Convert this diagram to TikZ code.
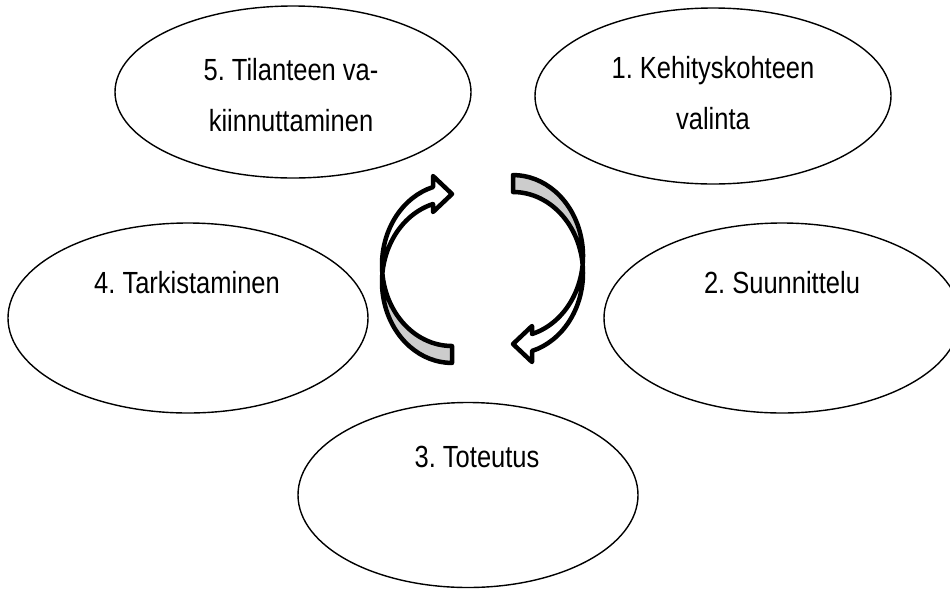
\documentclass[tikz,border=0pt]{standalone}
\usepackage{fontspec}
\setmainfont{Liberation Sans}
\usetikzlibrary{shapes.geometric}
\frenchspacing

\begin{document}
\begin{tikzpicture}[x=1pt,y=-1pt,
    phase/.style={draw,ellipse,line width=1.4pt,inner sep=0pt},
    phasetext/.style={font=\fontsize{25.5}{42}\selectfont,align=center,inner sep=0pt,
      yscale=1.2,transform shape},
    arrowline/.style={line width=4.5pt,line join=round},
    arrowshade/.style={fill=black!20},
    pics/turnarrow/.style={code={
      % shaded back side of the band
      \fill[arrowshade] (382,282) arc[start angle=180,end angle=90,x radius=70,y radius=81]
        -- (452,346) arc[start angle=90,end angle=180,x radius=70,y radius=81] -- cycle;
      % outline of band and head
      \draw[arrowline] (433,204) arc[start angle=254.25,end angle=90,x radius=70,y radius=81]
        -- (452,346) arc[start angle=90,end angle=254.25,x radius=70,y radius=81]
        -- (433,176) -- (452,194) -- (433,212) -- cycle;
    }}]
  \useasboundingbox (0,0) rectangle (950,590);

  % Phases
  \node[phase,minimum width=356pt,minimum height=172pt] (e5) at (293,92) {};
  \node[phase,minimum width=356pt,minimum height=176pt] (e1) at (713,96) {};
  \node[phase,minimum width=360pt,minimum height=190pt] (e4) at (188,318) {};
  \node[phase,minimum width=356pt,minimum height=190pt] (e2) at (782,318) {};
  \node[phase,minimum width=340pt,minimum height=185pt] (e3) at (468,495) {};

  \node[phasetext] (t5) at (291,95) {5. Tilanteen va-\\kiinnuttaminen};
  \node[phasetext] (t1) at (713,93) {1. Kehityskohteen\\valinta};
  \node[phasetext] (t4) at (187,283) {4. Tarkistaminen};
  \node[phasetext] (t2) at (782,283) {2. Suunnittelu};
  \node[phasetext] (t3) at (477,457) {3. Toteutus};

  % Cycle arrows
  \pic (la) at (0,0) {turnarrow};
  \pic[rotate=180] (ra) at (965,538) {turnarrow};
\end{tikzpicture}
\end{document}
